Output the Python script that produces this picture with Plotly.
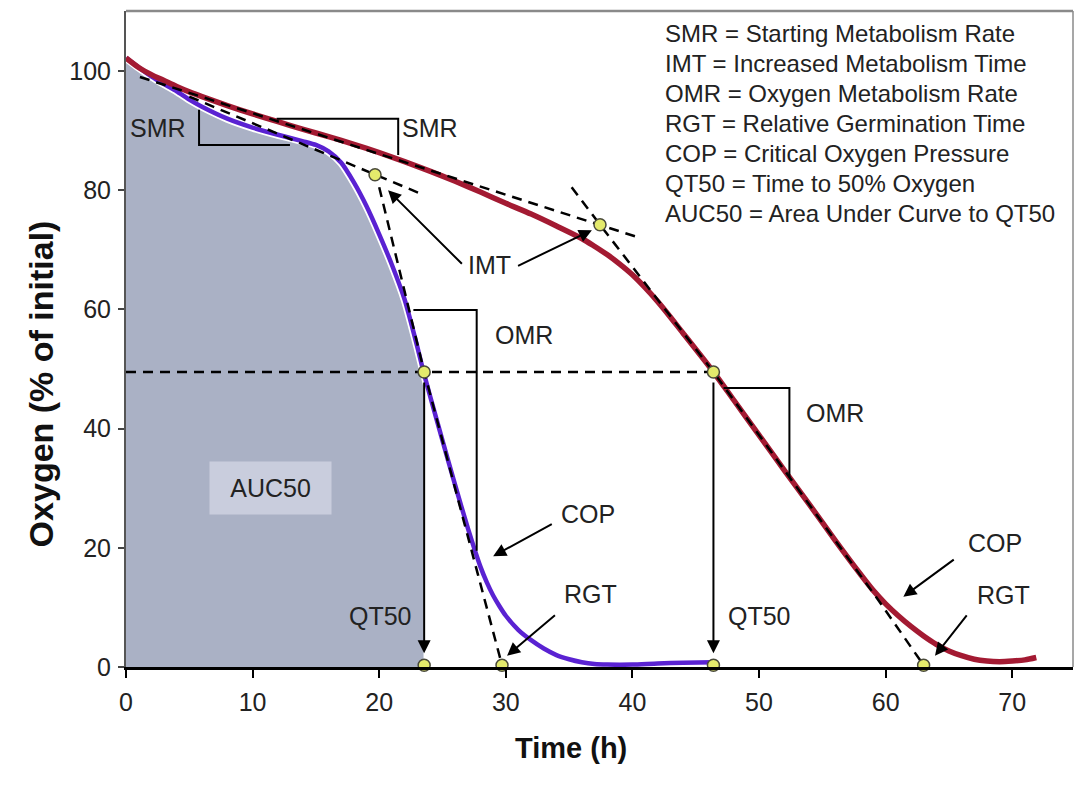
import plotly.graph_objects as go

# ---------------- data ----------------
time_purple = [0, 1, 2, 3, 4, 5, 6, 8, 10, 12, 14, 15, 16, 17, 18, 19, 20, 21, 22, 23, 23.5,
               24, 25, 26, 27, 28, 28.5, 29, 29.5, 30, 31, 32, 33, 34, 35, 36, 37, 38, 40, 42, 44, 46.4]
oxygen_purple = [102.2, 100.6, 99.1, 97.8, 96.6, 95.2, 94.0, 92.0, 90.5, 89.3, 88.2, 87.6, 86.5, 84.6, 81.3,
                 77.3, 72.6, 67.5, 61.7, 53.8, 49.5, 45.6, 38.0, 30.5, 23.3, 16.8, 14.2, 12.0, 10.2, 8.6,
                 6.2, 4.5, 3.1, 2.0, 1.3, 0.8, 0.5, 0.4, 0.4, 0.6, 0.7, 0.8]

time_red = [0, 1, 2, 3, 4, 5, 6, 8, 10, 12, 14, 16, 18, 20, 22, 24, 26, 28, 30, 32, 34, 36, 37, 38, 39, 40, 42,
            44, 46.4, 48, 50, 52, 54, 56, 58, 59, 60, 61, 62, 63, 64, 65, 66, 67, 68, 69, 70, 71, 71.9]
oxygen_red = [102.2, 100.6, 99.4, 98.4, 97.4, 96.5, 95.7, 94.2, 92.8, 91.5, 90.2, 89.0, 87.7, 86.3, 84.8,
              83.2, 81.5, 79.7, 77.8, 76.0, 74.0, 71.9, 70.6, 69.2, 67.6, 65.8, 61.3, 56.0, 49.5, 44.8, 38.9,
              33.0, 27.2, 21.3, 15.6, 12.9, 10.6, 8.6, 6.8, 5.2, 3.8, 2.7, 1.9, 1.3, 1.0, 0.9, 1.0, 1.2, 1.6]

qt50_level = 49.5
qt50_times = [23.55, 46.4]
x_ticks = [0, 10, 20, 30, 40, 50, 60, 70]
y_ticks = [0, 20, 40, 60, 80, 100]

# tangent (dashed) lines
smr_tan_purple_x = [5.0, 23.4]
smr_tan_purple_y = [95.7, 79.3]
smr_tan_red_x = [1.1, 40.6]
smr_tan_red_y = [99.0, 72.0]
omr_tan_purple_x = [20.0, 23.5, 27.8, 29.7]
omr_tan_purple_y = [80.5, 50.0, 15.5, 0.3]
omr_tan_red_x = [35.2, 37.44, 46.4, 59.5, 63.0]
omr_tan_red_y = [80.5, 74.2, 49.5, 11.0, 0.3]

# slope brackets
smr_br_purple_x = [5.77, 5.77, 12.95]
smr_br_purple_y = [93.5, 87.6, 87.6]
smr_br_red_x = [11.9, 21.5, 21.5]
smr_br_red_y = [92.0, 92.0, 85.9]
omr_br_purple_x = [22.7, 27.7, 27.7]
omr_br_purple_y = [59.9, 59.9, 19.5]
omr_br_red_x = [47.2, 52.4, 52.4]
omr_br_red_y = [46.8, 46.8, 31.9]

# key points
point_x = [19.67, 37.44, 23.55, 46.4, 23.55, 29.7, 46.4, 63.0]
point_y = [82.6, 74.2, 49.5, 49.5, 0.3, 0.3, 0.3, 0.3]

legend_lines = [
    "SMR = Starting Metabolism Rate",
    "IMT = Increased Metabolism Time",
    "OMR = Oxygen Metabolism Rate",
    "RGT = Relative Germination Time",
    "COP = Critical Oxygen Pressure",
    "QT50 = Time to 50% Oxygen",
    "AUC50 = Area Under Curve to QT50",
]

# labels: (text, x, y)
labels = [
    ("SMR", 2.55, 90.4), ("SMR", 24.0, 90.4), ("IMT", 28.75, 67.4),
    ("OMR", 31.4, 55.7), ("OMR", 56.0, 42.6),
    ("COP", 36.5, 25.7), ("COP", 68.6, 20.8),
    ("RGT", 36.7, 12.3), ("RGT", 69.3, 12.1),
    ("QT50", 20.1, 8.6), ("QT50", 50.0, 8.6),
]
# arrows: (tail_x, tail_y, head_x, head_y)
arrows = [
    (26.65, 67.4, 20.7, 80.0), (30.85, 67.2, 36.8, 73.3),
    (23.55, 48.0, 23.55, 2.3), (46.4, 48.0, 46.4, 2.3),
    (33.75, 24.1, 29.0, 18.6), (65.5, 18.2, 61.4, 11.8),
    (34.0, 8.9, 30.1, 1.9), (66.5, 8.9, 63.9, 1.9),
]

# ---------------- figure ----------------
FONT = "Arial, Liberation Sans, sans-serif"
fig = go.Figure()

auc_x = [t for t in time_purple if t <= 23.5]
auc_y = oxygen_purple[:len(auc_x)]
fig.add_trace(go.Scatter(x=auc_x, y=auc_y, mode="lines", fill="tozeroy",
                         fillcolor="#aab1c5", line=dict(color="rgba(0,0,0,0)", width=0),
                         hoverinfo="skip", showlegend=False))
# white halo + purple curve
fig.add_trace(go.Scatter(x=time_purple, y=oxygen_purple, mode="lines",
                         line=dict(color="white", width=8, shape="spline", smoothing=0.6),
                         showlegend=False, hoverinfo="skip"))
fig.add_trace(go.Scatter(x=time_purple, y=oxygen_purple, mode="lines",
                         line=dict(color="#5a22d2", width=4.5, shape="spline", smoothing=0.6),
                         showlegend=False))
fig.add_trace(go.Scatter(x=time_red, y=oxygen_red, mode="lines",
                         line=dict(color="#a31a32", width=5.5, shape="spline", smoothing=0.8),
                         showlegend=False))

DASH = "10px,7px"
for xs, ys in [(smr_tan_purple_x, smr_tan_purple_y), (smr_tan_red_x, smr_tan_red_y),
               (omr_tan_purple_x, omr_tan_purple_y), (omr_tan_red_x, omr_tan_red_y)]:
    fig.add_trace(go.Scatter(x=xs, y=ys, mode="lines",
                             line=dict(color="black", width=2.5, dash=DASH),
                             showlegend=False, hoverinfo="skip"))
# 50% horizontal dashed line
fig.add_trace(go.Scatter(x=[0, qt50_times[1]], y=[qt50_level, qt50_level], mode="lines",
                         line=dict(color="black", width=2.5, dash=DASH),
                         showlegend=False, hoverinfo="skip"))

for xs, ys in [(smr_br_purple_x, smr_br_purple_y), (smr_br_red_x, smr_br_red_y),
               (omr_br_purple_x, omr_br_purple_y), (omr_br_red_x, omr_br_red_y)]:
    fig.add_trace(go.Scatter(x=xs, y=ys, mode="lines", line=dict(color="black", width=2),
                             showlegend=False, hoverinfo="skip"))

fig.add_trace(go.Scatter(x=point_x, y=point_y, mode="markers", cliponaxis=False,
                         marker=dict(size=12, color="#e4ea6c", line=dict(color="#4a4a3a", width=1.5)),
                         showlegend=False))

annotations = []
for tx, ty, hx, hy in arrows:
    annotations.append(dict(x=hx, y=hy, ax=tx, ay=ty, xref="x", yref="y", axref="x", ayref="y",
                            text="", showarrow=True, arrowhead=2, arrowsize=1.3,
                            arrowwidth=2, arrowcolor="black"))
for txt, x, y in labels:
    annotations.append(dict(x=x, y=y, xref="x", yref="y", text=txt, showarrow=False,
                            font=dict(family=FONT, size=25, color="#222")))
# AUC50 label box
annotations.append(dict(x=11.43, y=30.0, xref="x", yref="y", text="AUC50", showarrow=False,
                        font=dict(family=FONT, size=25, color="#222"),
                        bgcolor="#c9cddd", width=119, height=50))
# definitions block
for i, line in enumerate(legend_lines):
    annotations.append(dict(x=42.4, y=106.3 - 5.03 * i, xref="x", yref="y", text=line,
                            showarrow=False, xanchor="left", yanchor="middle",
                            font=dict(family=FONT, size=24, color="#222")))
# axis titles
annotations.append(dict(x=-0.09, y=0.432, xref="paper", yref="paper", text="<b>Oxygen (% of initial)</b>",
                        textangle=-90, showarrow=False, xanchor="center", yanchor="middle",
                        font=dict(family=FONT, size=34, color="#111")))
annotations.append(dict(x=0.47, y=-0.123, xref="paper", yref="paper", text="<b>Time (h)</b>",
                        showarrow=False, xanchor="center", yanchor="middle",
                        font=dict(family=FONT, size=29, color="#111")))

fig.update_layout(
    width=1077, height=792,
    margin=dict(l=126, r=4, t=11, b=125),
    paper_bgcolor="white", plot_bgcolor="white",
    annotations=annotations,
    shapes=[
        dict(type="line", xref="paper", yref="paper", x0=0, x1=1, y0=1, y1=1,
             line=dict(color="#8a8a8a", width=2.5)),
        dict(type="line", xref="paper", yref="paper", x0=1, x1=1, y0=0, y1=1,
             line=dict(color="#8a8a8a", width=1.5)),
    ],
    xaxis=dict(range=[0, 74.8], tickvals=x_ticks, ticks="outside", ticklen=8, tickwidth=2,
               tickcolor="black", showline=True, linecolor="black", linewidth=2.5,
               showgrid=False, zeroline=False, ticklabelstandoff=3,
               tickfont=dict(family=FONT, size=25, color="#222")),
    yaxis=dict(range=[0, 110.07], tickvals=y_ticks, ticks="outside", ticklen=6, tickwidth=2,
               tickcolor="#444", showline=True, linecolor="#555", linewidth=2,
               showgrid=False, zeroline=False, ticklabelstandoff=2,
               tickfont=dict(family=FONT, size=25, color="#222")),
)

fig.write_html("out.html", config={"displayModeBar": False},
               post_script="document.body.style.margin='0';")
